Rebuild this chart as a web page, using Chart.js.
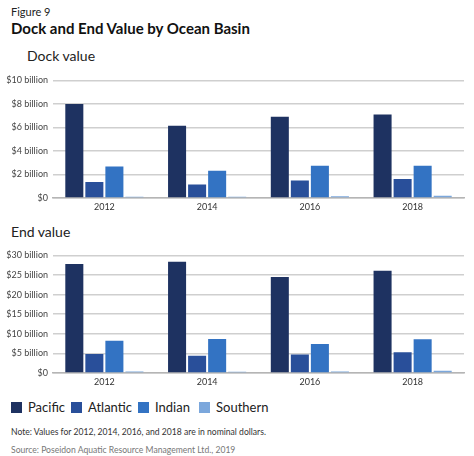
<!DOCTYPE html>
<html>
<head>
<meta charset="utf-8">
<script src="https://cdn.jsdelivr.net/npm/chart.js@4.4.1/dist/chart.umd.min.js"></script>
<style>
  body { margin: 0; background: #fff; font-family: Lato, "Open Sans", sans-serif; color: #111; }
  #page { position: relative; width: 474px; height: 456px; overflow: hidden; }
  .abs { position: absolute; white-space: nowrap; }
  .box { position: absolute; left: 0; width: 474px; height: 147px; }
  .leg { position: absolute; top: 399px; display: flex; align-items: center; font-size: 13px; color: #222; }
  .leg span.sw { width: 11px; height: 11px; margin-right: 6px; display: inline-block; }
</style>
</head>
<body>
<div id="page">
  <div class="abs" style="left:11px;top:5px;font-size:11px;color:#222">Figure 9</div>
  <div class="abs" style="left:11px;top:19px;font-size:15px;font-weight:bold;color:#111">Dock and End Value by Ocean Basin</div>
  <div class="abs" style="left:27px;top:47px;font-size:14px;color:#222">Dock value</div>
  <div class="box" style="top:70px"><canvas id="dockChart"></canvas></div>
  <div class="abs" style="left:11px;top:223px;font-size:14px;color:#222">End value</div>
  <div class="box" style="top:245px"><canvas id="endChart"></canvas></div>
  <div id="legend"></div>
  <div class="abs" style="left:11px;top:427px;font-size:8.6px;color:#333">Note: Values for 2012, 2014, 2016, and 2018 are in nominal dollars.</div>
  <div class="abs" style="left:11px;top:445px;font-size:8.6px;color:#777">Source: Poseidon Aquatic Resource Management Ltd., 2019</div>
</div>
<script>
// values in billions of dollars
const years = ['2012', '2014', '2016', '2018'];
const basins = ['Pacific', 'Atlantic', 'Indian', 'Southern'];
const basinColors = ['#1e3261', '#294f9a', '#3373c3', '#7ba7dc'];

const dockPacific = [8.0, 6.15, 6.9, 7.1];
const dockAtlantic = [1.37, 1.14, 1.48, 1.62];
const dockIndian = [2.68, 2.31, 2.74, 2.74];
const dockSouthern = [0.1, 0.1, 0.15, 0.2];

const endPacific = [27.8, 28.4, 24.5, 26.1];
const endAtlantic = [4.87, 4.4, 4.7, 5.3];
const endIndian = [8.2, 8.7, 7.4, 8.6];
const endSouthern = [0.4, 0.35, 0.4, 0.55];

const dockTicks = [0, 2, 4, 6, 8, 10];
const endTicks = [0, 5, 10, 15, 20, 25, 30];

const tickFont = { family: 'Lato', size: 9 };

function makeChart(id, series, ticks) {
  const max = ticks[ticks.length - 1];
  const step = ticks[1] - ticks[0];
  return new Chart(document.getElementById(id), {
    type: 'bar',
    data: {
      labels: years,
      datasets: series.map((vals, i) => ({
        label: basins[i],
        data: vals,
        backgroundColor: basinColors[i],
        barPercentage: 0.9,
        categoryPercentage: 0.78,
      })),
    },
    options: {
      responsive: true,
      maintainAspectRatio: false,
      animation: false,
      layout: { padding: { top: 10, right: 10, left: 0, bottom: 0 } },
      plugins: { legend: { display: false }, tooltip: { enabled: false } },
      scales: {
        x: {
          afterFit: s => { s.height = 19; },
          grid: { display: false, drawTicks: false },
          border: { color: '#b5b5b5', width: 1.5 },
          ticks: { color: '#333', font: tickFont, padding: 4 },
        },
        y: {
          min: 0, max: max,
          afterFit: s => { s.width = 53; },
          afterBuildTicks: s => { s.ticks = ticks.map(v => ({ value: v })); },
          grid: { color: '#cfcfcf', lineWidth: 1.5, drawTicks: false },
          border: { display: false },
          ticks: {
            stepSize: step,
            color: '#444',
            font: tickFont,
            padding: 5,
            callback: v => v === 0 ? '$0' : '$' + v + ' billion',
          },
        },
      },
    },
  });
}

makeChart('dockChart', [dockPacific, dockAtlantic, dockIndian, dockSouthern], dockTicks);
makeChart('endChart', [endPacific, endAtlantic, endIndian, endSouthern], endTicks);

// legend
const legendX = [11, 71, 138, 199];
let html = '';
basins.forEach((b, i) => {
  html += `<div class="leg" style="left:${legendX[i]}px"><span class="sw" style="background:${basinColors[i]}"></span>${b}</div>`;
});
document.getElementById('legend').innerHTML = html;
</script>
</body>
</html>
